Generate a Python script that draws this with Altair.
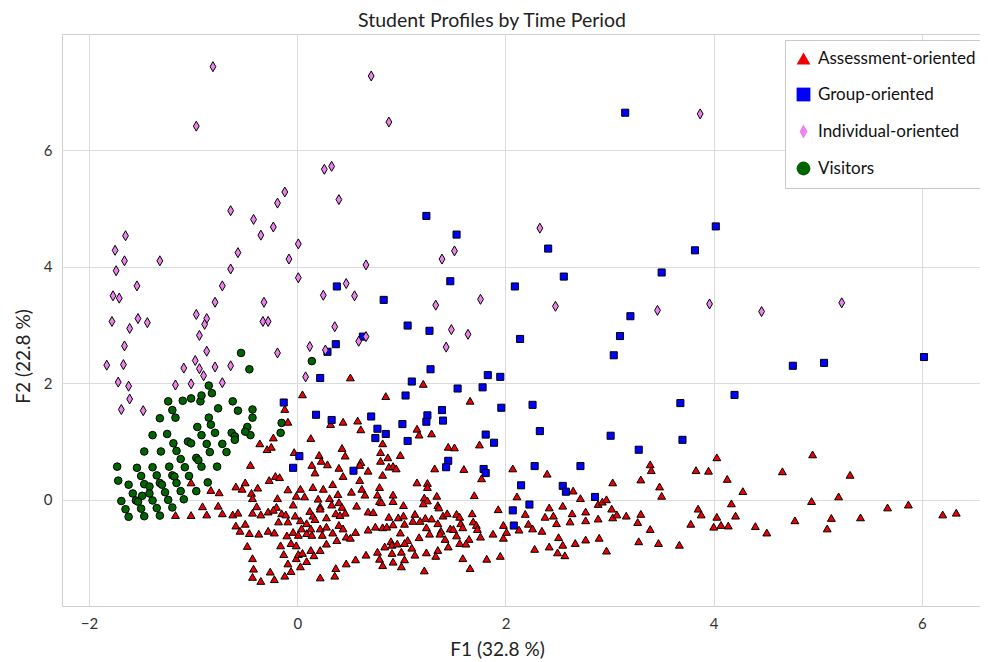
import altair as alt
import pandas as pd

CATEGORIES = ["Assessment-oriented", "Group-oriented", "Individual-oriented", "Visitors"]
DRAW_ORDER = ["Visitors", "Assessment-oriented", "Group-oriented", "Individual-oriented"]

ASSESS = [
    (0.51,2.10),(0.05,1.81),(0.85,1.78),(-0.12,1.56),(-0.09,1.34),(0.44,1.34),(0.58,1.36),(0.32,1.30),(0.61,1.21),(-0.23,1.07),
    (-0.36,0.97),(-0.29,0.87),(-0.25,0.91),(0.13,1.06),(-0.03,0.82),(0.43,0.89),(0.82,0.97),(0.21,0.77),(0.46,0.76),(0.80,0.82),
    (0.87,0.73),(0.80,0.67),(-0.45,0.60),(0.14,0.60),(0.23,0.67),(0.29,0.61),(0.40,0.55),(0.61,0.65),(0.60,0.60),(0.68,0.50),
    (0.88,0.57),(0.17,0.47),(0.44,0.41),(0.60,0.34),(0.82,0.43),(-0.21,0.41),(-0.17,0.39),(-0.27,0.34),(-0.50,0.30),(-0.59,0.23),
    (-0.53,0.19),(-0.38,0.21),(-0.09,0.18),(0.03,0.19),(0.15,0.22),(0.25,0.19),(0.34,0.27),(0.52,0.14),(0.62,0.19),(0.65,0.09),
    (0.79,0.22),(-0.44,0.12),(-0.43,0.03),(-0.19,0.03),(-0.01,0.07),(0.07,0.06),(0.20,0.02),(0.31,0.03),(0.39,0.10),(0.77,0.09),
    (0.79,-0.02),(0.92,0.09),(-0.39,-0.11),(-0.20,-0.12),(-0.04,-0.08),(0.22,-0.11),(0.33,-0.08),(0.40,-0.04),(0.43,-0.12),(0.57,-0.10),
    (0.68,-0.20),(0.73,-0.21),(0.81,-0.04),(0.88,-0.29),(-0.62,-0.25),(-0.57,-0.22),(-0.43,-0.22),(-0.35,-0.25),(-0.28,-0.20),(-0.23,-0.17),
    (-0.15,-0.23),(-0.11,-0.25),(-0.02,-0.27),(0.12,-0.19),(0.15,-0.27),(0.22,-0.15),(0.28,-0.30),(0.37,-0.23),(0.41,-0.26),(0.46,-0.22),
    (-0.18,-0.37),(-0.09,-0.37),(0.03,-0.35),(0.09,-0.40),(0.17,-0.33),(0.22,-0.49),(0.28,-0.46),(0.40,-0.43),(-0.59,-0.44),(-0.50,-0.41),
    (-0.55,-0.53),(-0.46,-0.57),(-0.37,-0.58),(-0.28,-0.53),(-0.22,-0.56),(-0.10,-0.61),(-0.04,-0.55),(0.01,-0.60),(0.04,-0.49),(0.09,-0.57),
    (0.13,-0.49),(0.14,-0.60),(0.24,-0.60),(0.34,-0.56),(0.44,-0.49),(0.47,-0.63),(0.51,-0.65),(0.56,-0.55),(0.68,-0.51),(0.75,-0.46),
    (0.82,-0.47),(0.86,-0.46),(0.90,-0.71),(0.84,-0.80),(0.77,-0.89),(0.66,-0.94),(0.56,-1.02),(0.47,-1.09),(0.37,-1.17),(0.36,-1.30),
    (0.22,-1.33),(-0.48,-0.79),(-0.43,-1.00),(-0.42,-1.18),(-0.43,-1.32),(-0.35,-1.39),(-0.26,-1.23),(-0.22,-1.36),(-0.12,-1.30),(-0.13,-0.93),
    (-0.09,-1.09),(-0.06,-1.22),(-0.06,-0.74),(-0.01,-1.00),(0.03,-1.14),(0.01,-0.93),(0.05,-0.91),(0.09,-1.05),(0.13,-0.86),(0.16,-0.95),
    (0.22,-0.86),(0.28,-0.75),(0.38,-0.69),(-0.01,-0.78),(-0.16,-0.78),(0.91,-0.77),(0.79,-1.01),(0.82,-1.12),
    (1.21,1.99),(1.66,1.70),(1.15,1.22),(1.17,1.12),(1.29,1.14),(1.45,0.91),(1.51,0.90),(1.75,0.95),(0.99,0.77),
    (0.92,0.58),(0.95,0.54),(1.32,0.54),(1.60,0.53),(2.07,0.54),(2.40,0.45),(1.77,0.37),(1.15,0.30),(1.25,0.29),(1.25,0.22),
    (1.70,0.08),(1.34,0.07),(2.11,0.06),(1.22,0.04),(1.25,-0.01),(1.21,-0.06),(0.92,-0.02),(1.02,-0.09),(1.35,-0.09),(1.36,-0.13),
    (1.93,-0.16),(2.19,-0.24),(2.42,-0.13),(2.38,-0.29),(2.46,-0.27),(2.49,-0.40),(0.97,-0.30),(1.02,-0.27),(1.13,-0.24),(1.18,-0.36),
    (1.11,-0.36),(1.03,-0.41),(0.92,-0.42),(1.29,-0.32),(1.23,-0.31),(1.35,-0.40),(1.40,-0.27),(1.44,-0.23),(1.53,-0.24),(1.56,-0.29),
    (1.68,-0.23),(1.69,-0.37),(1.57,-0.40),(1.24,-0.47),(1.47,-0.49),(1.50,-0.50),(1.59,-0.47),(1.72,-0.43),(1.73,-0.50),(1.98,-0.43),
    (2.01,-0.55),(2.13,-0.51),(2.22,-0.41),(2.26,-0.49),(2.35,-0.53),(0.99,-0.56),(1.38,-0.53),(1.37,-0.58),(1.27,-0.58),(1.17,-0.64),
    (1.06,-0.69),(1.42,-0.67),(1.53,-0.61),(1.65,-0.67),(1.76,-0.63),(1.88,-0.58),(1.98,-0.65),(0.96,-0.75),(1.03,-0.74),(1.56,-0.74),
    (1.62,-0.75),(1.45,-0.80),(1.10,-0.82),(1.00,-0.89),(1.24,-0.90),(1.35,-0.86),(1.33,-0.96),(1.13,-0.94),(0.91,-0.91),(1.03,-1.02),
    (0.92,-1.06),(1.00,-1.14),(1.59,-1.00),(1.82,-1.01),(1.95,-0.96),(2.28,-0.84),(2.42,-0.80),(2.50,-0.90),(1.22,-1.21),(1.66,-1.17),
    (2.65,0.16),(2.72,0.03),(2.89,-0.07),(2.93,-0.03),(2.97,0.01),(2.55,-0.10),(2.64,-0.23),(2.77,-0.20),(3.02,-0.15),(3.03,-0.30),
    (3.07,-0.25),(3.16,-0.27),(3.30,-0.24),(3.27,-0.38),(2.89,-0.32),(2.77,-0.35),(2.62,-0.37),(3.39,-0.50),(2.51,-0.64),(2.55,-0.77),
    (2.67,-0.74),(2.77,-0.68),(2.90,-0.65),(2.57,-0.95),(2.97,-0.87),(3.28,-0.71),(3.47,-0.74),(3.67,-0.77),(3.03,0.30),(3.30,0.35),
    (3.39,0.61),(3.40,0.51),(3.48,0.23),(3.50,0.07),(3.85,-0.15),(3.88,-0.25),(3.78,-0.41),(4.03,-0.29),(4.00,-0.46),(4.07,-0.43),
    (4.03,0.73),(3.83,0.51),(3.95,0.50),
    (4.13,0.36),(4.28,0.15),(4.17,-0.06),(4.21,-0.27),(4.14,-0.44),(4.40,-0.45),(4.51,-0.56),(4.66,0.49),(4.95,0.78),(5.31,0.43),
    (4.94,-0.02),(5.20,0.06),(4.78,-0.35),(5.13,-0.31),(5.09,-0.49),(5.41,-0.30),(5.67,-0.13),(5.87,-0.08),(6.20,-0.25),(6.33,-0.22),
    (-1.02,0.30),(-0.83,0.17),(-0.75,0.13),(-0.91,-0.11),(-0.76,-0.10),(-1.17,-0.26),(-1.02,-0.26),(-0.87,-0.25),(-0.72,-0.23),
]

GROUP = [
    (1.24,4.87),(1.53,4.55),(2.41,4.31),(1.47,3.75),(2.09,3.66),(0.38,3.66),(0.83,3.43),(1.06,2.99),(1.27,2.90),(2.14,2.76),
    (0.37,2.67),(0.29,2.54),(0.63,2.80),(0.22,2.09),(1.28,2.24),(1.10,2.03),(1.83,2.14),(1.95,2.11),(1.54,1.91),(1.78,1.93),
    (1.04,1.79),(3.15,6.64),(4.02,4.69),(3.82,4.28),(2.56,3.83),(3.50,3.90),(3.20,3.15),(3.10,2.81),(3.04,2.48),(4.76,2.30),
    (5.06,2.35),(6.02,2.45),(3.68,1.66),(4.20,1.80),(-0.13,1.67),(0.18,1.46),(0.33,1.37),(0.71,1.43),(0.77,1.22),(0.85,1.13),
    (0.75,1.06),(0.02,0.75),(-0.04,0.55),(0.54,0.50),(1.96,1.58),(2.26,1.63),(1.39,1.54),(1.25,1.45),(1.24,1.34),(1.40,1.36),
    (1.01,1.30),(2.33,1.18),(1.06,1.01),(1.81,1.12),(1.89,0.98),(1.45,0.67),(1.43,0.56),(1.79,0.53),(1.81,0.46),(2.28,0.58),
    (2.15,0.25),(2.23,-0.08),(2.07,-0.18),(2.08,-0.44),(3.70,1.03),(3.01,1.10),(3.28,0.86),(2.72,0.58),(2.55,0.24),(2.58,0.14),
    (2.86,0.05),
]

INDIV = [
    (-0.81,7.43),(-0.97,6.41),(0.26,5.67),(0.33,5.72),(-0.12,5.28),(-0.19,5.09),(-0.64,4.96),(-0.42,4.81),(-0.35,4.54),(-0.23,4.68),
    (0.01,4.39),(-0.08,4.13),(-0.57,4.24),(-0.64,3.96),(0.01,3.81),(-1.65,4.53),(-1.75,4.28),(-1.66,4.10),(-1.74,3.93),(-1.32,4.10),
    (-1.54,3.67),(-1.77,3.50),(-1.71,3.46),(-0.72,3.67),(-0.79,3.39),(-0.32,3.39),(0.25,3.51),(-1.78,3.06),(-1.53,3.11),(-1.44,3.04),
    (-1.61,2.94),(-0.97,3.18),(-0.87,3.11),(-0.89,3.01),(-0.94,2.82),(-0.33,3.06),(-0.28,3.06),(-1.66,2.64),(-0.87,2.55),(-0.19,2.52),
    (0.12,2.63),(0.27,2.57),(-1.83,2.31),(-1.67,2.32),(-0.98,2.39),(-1.09,2.26),(-0.94,2.25),(-0.79,2.28),(-0.64,2.30),(-0.90,2.13),
    (-1.72,2.02),(-1.62,1.95),(-1.17,1.97),(-1.02,1.99),(-0.72,2.01),(0.08,2.11),(-1.61,1.73),(-1.69,1.55),(-1.48,1.53),(0.40,5.15),
    (0.66,4.03),(1.39,4.13),(1.51,4.27),(2.33,4.66),(0.47,3.71),(0.55,3.50),(1.33,3.34),(1.76,3.44),(2.48,3.32),(0.36,2.97),
    (0.59,2.72),(0.66,2.80),(1.48,2.92),(1.64,2.84),(1.43,2.62),(3.87,6.62),(3.46,3.25),(3.96,3.36),(4.46,3.23),(5.23,3.38),
    (0.71,7.27),(0.88,6.48),
]

VISIT = [
    (-0.54,2.52),(-0.46,2.24),(-0.85,1.96),(-0.82,1.83),(-1.24,1.69),(-1.10,1.70),(-1.02,1.74),(-0.93,1.69),(-0.92,1.79),(-0.62,1.69),
    (-1.20,1.54),(-0.76,1.57),(-0.57,1.53),(-0.43,1.55),(-1.32,1.40),(-1.17,1.41),(-0.85,1.41),(-0.43,1.41),(-0.83,1.29),(-0.96,1.25),
    (-0.48,1.25),(-1.39,1.11),(-1.25,1.13),(-0.92,1.11),(-0.79,1.15),(-0.63,1.15),(-0.60,1.09),(-0.45,1.11),(-0.60,1.03),(-1.19,0.97),
    (-1.05,1.00),(-1.02,0.97),(-0.87,0.96),(-0.72,0.96),(-1.47,0.83),(-1.31,0.83),(-1.16,0.84),(-0.84,0.82),(-0.68,0.82),(-1.12,0.70),
    (-0.97,0.72),(-0.95,0.68),(-1.73,0.57),(-1.54,0.55),(-1.39,0.56),(-1.23,0.57),(-1.08,0.56),(-0.92,0.57),(-0.77,0.57),(-1.50,0.41),
    (-1.35,0.42),(-1.20,0.42),(-1.18,0.40),(-1.04,0.41),(-1.72,0.33),(-1.62,0.26),(-1.47,0.27),(-1.42,0.23),(-1.32,0.29),(-1.30,0.26),
    (-1.16,0.29),(-0.86,0.30),(-1.58,0.11),(-1.49,0.07),(-1.42,0.11),(-1.27,0.13),(-1.12,0.15),(-0.97,0.15),(-1.69,-0.02),(-1.55,-0.01),
    (-1.53,-0.03),(-1.39,-0.01),(-1.24,0.00),(-1.09,0.01),(-1.65,-0.16),(-1.50,-0.15),(-1.35,-0.14),(-1.20,-0.13),(-1.62,-0.29),(-1.47,-0.28),
    (-1.32,-0.27),(-0.15,1.32),(-0.50,1.17),(-0.16,1.15),(0.14,2.38),
]

X_TICKS = [-2, 0, 2, 4, 6]
Y_TICKS = [0, 2, 4, 6]

FILL_COLORS = ["#ee0000", "#0000ff", "#ee82ee", "#006400"]
THIN_DIAMOND = "M0,-1L0.58,0L0,1L-0.58,0Z"
SHAPES = ["triangle-up", "square", THIN_DIAMOND, "circle"]
SIZES = {"Assessment-oriented": 62, "Group-oriented": 50,
         "Individual-oriented": 100, "Visitors": 58}

series = {
    "Assessment-oriented": ASSESS,
    "Group-oriented": GROUP,
    "Individual-oriented": INDIV,
    "Visitors": VISIT,
}
rows = []
for cat in DRAW_ORDER:
    for f1, f2 in series[cat]:
        rows.append({"f1": f1, "f2": f2, "profile": cat})
df = pd.DataFrame(rows)

legend = alt.Legend(
    title=None,
    orient="none", legendX=723, legendY=6, direction="vertical",
    fillColor="white", strokeColor="#c8c8c8", padding=10,
    labelFont="Lato", labelFontSize=17, labelColor="#111", labelOffset=6,
    symbolSize=190, symbolStrokeColor="black", symbolStrokeWidth=1,
    rowPadding=18, labelLimit=300,
)

x_enc = alt.X("f1:Q", scale=alt.Scale(domain=[-2.26, 6.558], nice=False, zero=False),
              axis=alt.Axis(values=X_TICKS, title="F1 (32.8 %)", grid=True, gridColor="#dcdcdc",
                            domain=False, ticks=False, labelPadding=10, labelFont="Lato",
                            labelFontSize=15, labelColor="#333", titleFont="Lato", titleFontSize=19,
                            titleFontWeight="normal", titlePadding=9, titleColor="#222",
                            titleX=435, titleAlign="center"))
y_enc = alt.Y("f2:Q", scale=alt.Scale(domain=[-1.82, 7.99], nice=False, zero=False),
              axis=alt.Axis(values=Y_TICKS, title="F2 (22.8 %)", grid=True, gridColor="#dcdcdc",
                            domain=False, ticks=False, labelPadding=10, labelFont="Lato",
                            labelFontSize=15, labelColor="#333", titleFont="Lato", titleFontSize=19,
                            titleFontWeight="normal", titlePadding=10, titleColor="#222",
                            titleY=322, titleAlign="center"))
fill_enc = alt.Fill("profile:N", scale=alt.Scale(domain=CATEGORIES, range=FILL_COLORS), legend=legend)
shape_enc = alt.Shape("profile:N", scale=alt.Scale(domain=CATEGORIES, range=SHAPES), legend=legend)

base = alt.Chart(df)
layers = []
for cat in DRAW_ORDER:
    layers.append(
        base.transform_filter(alt.datum.profile == cat)
        .mark_point(filled=True, opacity=1, stroke="black", strokeWidth=1, size=SIZES[cat])
        .encode(x=x_enc, y=y_enc, fill=fill_enc, shape=shape_enc)
    )

chart = alt.layer(*layers).properties(
    width=918, height=572,
    autosize=alt.AutoSizeParams(type="none"),
    padding={"left": 54, "top": 26, "right": 0, "bottom": 56},
    title=alt.TitleParams("Student Profiles by Time Period", font="Lato", fontSize=19.5,
                          fontWeight="normal", color="#222", anchor="middle", offset=3, dx=-29),
).configure_view(stroke="#cfcfcf", strokeWidth=1)

chart.save("out.html", embed_options={"renderer": "svg", "actions": False})
